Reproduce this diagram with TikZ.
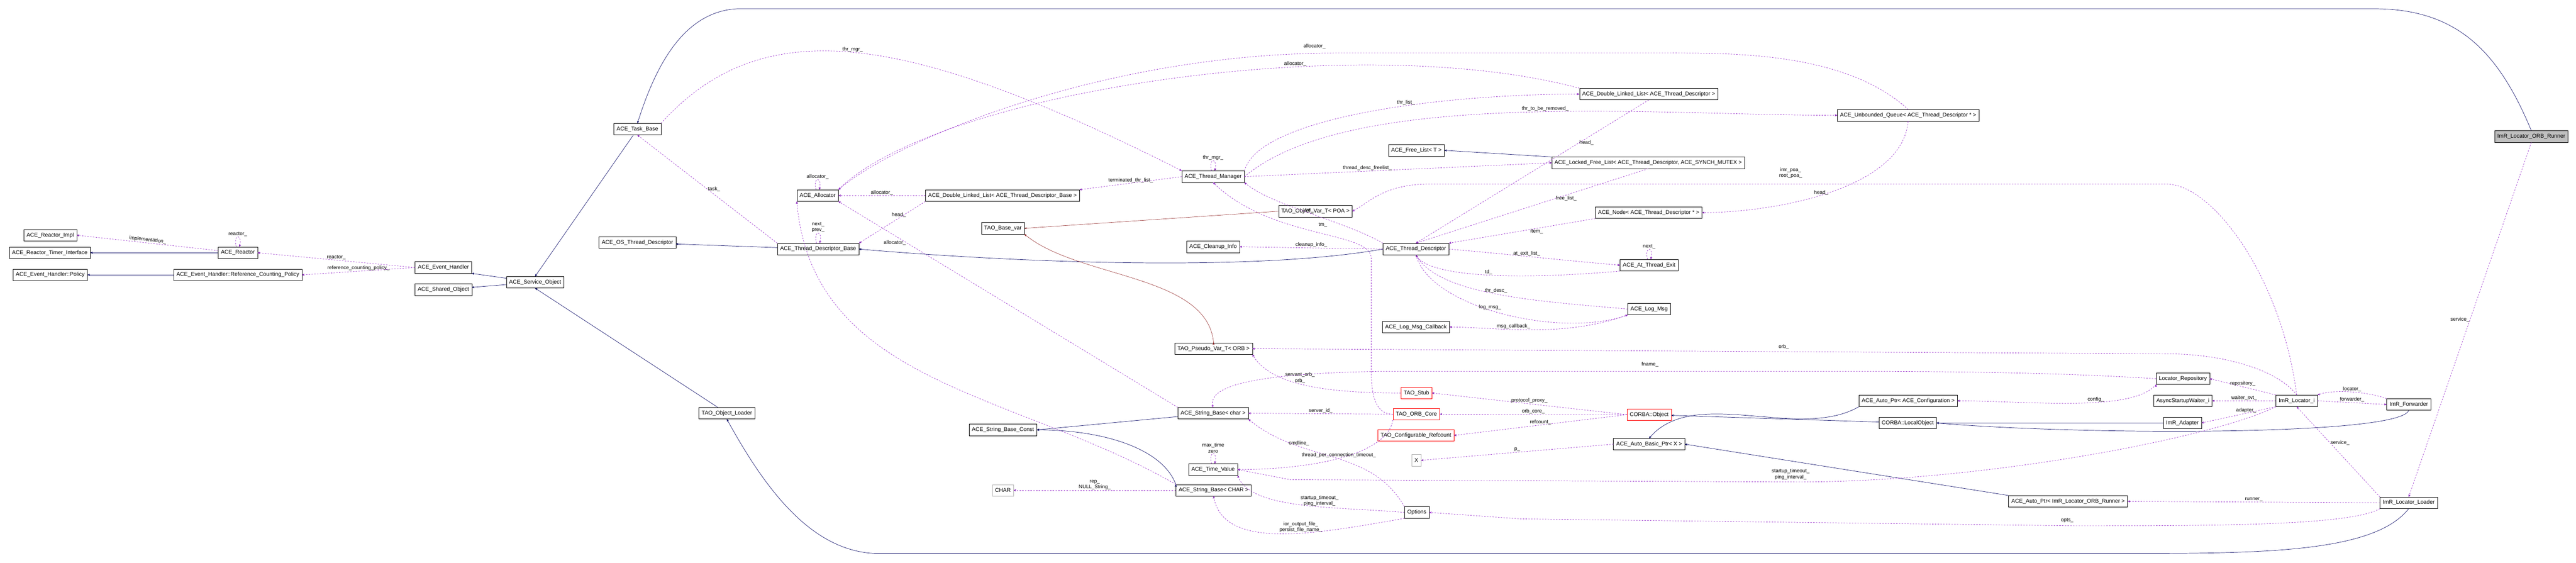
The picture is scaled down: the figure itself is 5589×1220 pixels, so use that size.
\documentclass[tikz,border=0pt]{standalone}
\usepackage{fontspec}
\setmainfont{Liberation Sans}
\usetikzlibrary{arrows}

\definecolor{inhcol}{RGB}{25,25,112}
\definecolor{usecol}{RGB}{154,50,205}
\definecolor{tplcol}{RGB}{139,26,26}

\begin{document}
\begin{tikzpicture}[x=1pt,y=-1pt,>=stealth',semithick,
    every node/.style={font=\fontsize{12}{14}\selectfont},
    cls/.style={rectangle,draw,fill=white,minimum height=25pt,inner xsep=6pt,inner ysep=2pt},
    red cls/.style={cls,draw=red},
    grey cls/.style={cls,draw=black!30},
    inh/.style={->,draw=inhcol,thick},
    tpl/.style={->,draw=tplcol},
    use/.style={->,draw=usecol,dashed,thick},
    cv/.style n args={4}{to path={.. controls +(#1:#2pt) and +(#3:#4pt) .. (\tikztotarget) \tikztonodes}},
    lbl/.style={font=\fontsize{11}{13}\selectfont,align=center,fill=none,inner sep=1pt}]

  \useasboundingbox (0,0) rectangle (5589,1220);

  % left part
  \node[cls] (rimpl)    at (109,510)  {ACE\_Reactor\_Impl};
  \node[cls] (rtimer)   at (108,548)  {ACE\_Reactor\_Timer\_Interface};
  \node[cls] (reactor)  at (516,548)  {ACE\_Reactor};
  \node[cls] (policy)   at (109,596)  {ACE\_Event\_Handler::Policy};
  \node[cls] (rcpolicy) at (516,596)  {ACE\_Event\_Handler::Reference\_Counting\_Policy};
  \node[cls] (evh)      at (962,580)  {ACE\_Event\_Handler};
  \node[cls] (shobj)    at (962,628)  {ACE\_Shared\_Object};
  \node[cls] (svcobj)   at (1161,612) {ACE\_Service\_Object};
  \node[cls] (taskb)    at (1383,280) {ACE\_Task\_Base};
  \node[cls] (osthr)    at (1383,526) {ACE\_OS\_Thread\_Descriptor};
  \node[cls] (objload)  at (1577,896) {TAO\_Object\_Loader};

  % middle part
  \node[cls] (tdb)      at (1775,540) {ACE\_Thread\_Descriptor\_Base};
  \node[cls] (alloc)    at (1774,424) {ACE\_Allocator};
  \node[cls] (dlltdb)   at (2175,424) {ACE\_Double\_Linked\_List< ACE\_Thread\_Descriptor\_Base >};
  \node[cls] (basevar)  at (2176,495) {TAO\_Base\_var};
  \node[cls] (sbconst)  at (2176,932) {ACE\_String\_Base\_Const};
  \node[grey cls] (chr) at (2176,1063) {CHAR};
  \node[cls] (tmgr)     at (2632,383) {ACE\_Thread\_Manager};
  \node[cls] (objref)   at (2854,458) {TAO\_Objref\_Var\_T< POA >};
  \node[cls] (cleanup)  at (2632,535) {ACE\_Cleanup\_Info};
  \node[cls] (pseudo)   at (2633,756) {TAO\_Pseudo\_Var\_T< ORB >};
  \node[cls] (sbchar)   at (2632,896) {ACE\_String\_Base< char >};
  \node[cls] (timev)    at (2632,1018) {ACE\_Time\_Value};
  \node[cls] (sbCHAR)   at (2633,1063) {ACE\_String\_Base< CHAR >};
  \node[cls] (freelist) at (3073,326) {ACE\_Free\_List< T >};
  \node[cls] (td)       at (3072,540) {ACE\_Thread\_Descriptor};
  \node[cls] (logcb)    at (3072,709) {ACE\_Log\_Msg\_Callback};
  \node[red cls] (stub)    at (3073,852) {TAO\_Stub};
  \node[red cls] (orbcore) at (3073,898) {TAO\_ORB\_Core};
  \node[red cls] (refcnt)  at (3072,944) {TAO\_Configurable\_Refcount};
  \node[grey cls] (xcls)   at (3073,998) {X};
  \node[cls] (options)  at (3074,1111) {Options};
  \node[cls] (dlltd)    at (3577,204) {ACE\_Double\_Linked\_List< ACE\_Thread\_Descriptor >};
  \node[cls] (lockedfl) at (3576,353) {ACE\_Locked\_Free\_List< ACE\_Thread\_Descriptor, ACE\_SYNCH\_MUTEX >};
  \node[cls] (tdnode)   at (3577,461) {ACE\_Node< ACE\_Thread\_Descriptor * >};
  \node[cls] (atexit)   at (3578,575) {ACE\_At\_Thread\_Exit};
  \node[cls] (logmsg)   at (3578,670) {ACE\_Log\_Msg};
  \node[red cls] (corbaobj) at (3578,899) {CORBA::Object};
  \node[cls] (autobasic) at (3578,963) {ACE\_Auto\_Basic\_Ptr< X >};

  % right part
  \node[cls] (uqueue)   at (4140,250) {ACE\_Unbounded\_Queue< ACE\_Thread\_Descriptor * >};
  \node[cls] (autocfg)  at (4140,869) {ACE\_Auto\_Ptr< ACE\_Configuration >};
  \node[cls] (localobj) at (4139,917) {CORBA::LocalObject};
  \node[cls] (autorun)  at (4487,1087) {ACE\_Auto\_Ptr< ImR\_Locator\_ORB\_Runner >};
  \node[cls] (repo)     at (4736,821) {Locator\_Repository};
  \node[cls] (waiter)   at (4736,869) {AsyncStartupWaiter\_i};
  \node[cls] (adapter)  at (4735,917) {ImR\_Adapter};
  \node[cls] (locator)  at (4983,869) {ImR\_Locator\_i};
  \node[cls] (forwarder) at (5226,877) {ImR\_Forwarder};
  \node[cls] (loader)   at (5226,1090) {ImR\_Locator\_Loader};
  \node[cls,fill=black!25] (runner) at (5492,296) {ImR\_Locator\_ORB\_Runner};

  % inheritance
  \path[inh]
  (reactor)  edge (rtimer)
  (rcpolicy) edge (policy)
  (svcobj)   edge (evh.south east)
  (svcobj)   edge (shobj)
  (taskb)    edge (svcobj.north)
  (objload)  edge (svcobj.south)
  (tdb)      edge (osthr)
  (td.west)  edge [cv={190}{300}{-5}{300}] (tdb.east)
  (lockedfl.north west) edge (freelist.east)
  (localobj) edge (corbaobj)
  (adapter)  edge (localobj)
  (forwarder.south) edge [cv={-110}{60}{-5}{300}] (localobj.east)
  (autocfg.south west) edge [cv={210}{150}{50}{150}] (autobasic.north)
  (autorun.north west) edge (autobasic.east)
  (sbchar)   edge (sbconst.east)
  (sbCHAR.north west) edge [cv={110}{80}{0}{150}] (sbconst.east)
  ;
  \draw[inh] (loader.south) .. controls (5150,1200) and (4900,1200) .. (4600,1200)
    -- (1900,1200) .. controls (1760,1195) and (1660,1060) .. (objload.south);
  \draw[inh] (runner.north) .. controls (5420,110) and (5330,19) .. (5150,19)
    -- (1600,19) .. controls (1480,25) and (1420,150) .. (taskb.north);

  % template instances
  \path[tpl]
  (objref.west) edge (basevar.east)
  (pseudo.north) edge [cv={95}{150}{-40}{150}] (basevar.south east)
  ;

  % members
  \path[use]
  (reactor) edge node[lbl,above,sloped] {implementation\_} (rimpl.east)
  (reactor) edge [loop above,min distance=30pt] node[lbl,above] {reactor\_} (reactor)
  (evh.west) edge node[lbl,above] {reactor\_} (reactor.east)
  (evh.west) edge node[lbl,above] {reference\_counting\_policy\_} (rcpolicy.east)
  (alloc) edge [loop above,min distance=30pt] node[lbl,above] {allocator\_} (alloc)
  (dlltdb.west) edge node[lbl,above] {allocator\_} (alloc.east)
  (dlltdb.south west) edge node[lbl,above,pos=.4] {head\_} (tdb.north east)
  (tdb) edge [loop above,min distance=30pt] node[lbl,above] {next\_\\prev\_} (tdb)
  (tdb.north west) edge node[lbl,right,pos=.5] {task\_} (taskb.south)
  (tmgr.west) edge node[lbl,above] {terminated\_thr\_list\_} (dlltdb.north east)
  (tmgr) edge [loop above,min distance=30pt] node[lbl,above] {thr\_mgr\_} (tmgr)
  (tmgr.north east) edge [cv={75}{120}{180}{300}] node[lbl,above,pos=.6] {thr\_list\_} (dlltd.west)
  (tmgr.east) edge [cv={40}{300}{180}{400}] node[lbl,above,pos=.55] {thr\_to\_be\_removed\_} (uqueue.west)
  (tmgr.east) edge node[lbl,above,pos=.4] {thread\_desc\_freelist\_} (lockedfl.west)
  (dlltd.north west) edge [cv={165}{500}{45}{300}] node[lbl,above,pos=.35] {allocator\_} (alloc.north east)
  (uqueue.south) edge [cv={-95}{150}{0}{150}] node[lbl,left,pos=.5] {head\_} (tdnode.east)
  (tdnode.south west) edge node[lbl,below,pos=.4] {item\_} (td.north east)
  (lockedfl.south) edge node[lbl,right,pos=.4] {free\_list\_} (td.north)
  (dlltd.south) edge node[lbl,right,pos=.3] {head\_} (td.north)
  (td.north west) edge [cv={150}{100}{-40}{80}] node[lbl,above,pos=.5] {tm\_} (tmgr.south east)
  (td.west) edge node[lbl,above] {cleanup\_info\_} (cleanup.east)
  (td.east) edge [cv={-5}{150}{175}{150}] node[lbl,above,pos=.45] {at\_exit\_list\_} (atexit.west)
  (atexit.south west) edge [cv={185}{200}{-60}{60}] node[lbl,above,pos=.5] {td\_} (td.south)
  (atexit) edge [loop above,min distance=30pt] node[lbl,above] {next\_} (atexit)
  (logmsg.west) edge [cv={175}{200}{-60}{100}] node[lbl,above,pos=.5] {thr\_desc\_} (td.south)
  (td.south) edge [cv={-75}{120}{200}{150}] node[lbl,above,pos=.45] {log\_msg\_} (logmsg.south west)
  (logmsg.south west) edge [cv={200}{150}{0}{100}] node[lbl,above,pos=.6] {msg\_callback\_} (logcb.east)
  (stub.west) edge [cv={180}{150}{-60}{80}] node[lbl,above,pos=.55] {servant\_orb\_\\orb\_} (pseudo.south east)
  (orbcore.west) edge node[lbl,above] {server\_id\_} (sbchar.east)
  (options.north west) edge [cv={120}{150}{-40}{150}] node[lbl,above,pos=.7] {cmdline\_} (sbchar.south east)
  (orbcore.south west) edge [cv={-100}{80}{0}{150}] node[lbl,above,pos=.5] {thread\_per\_connection\_timeout\_} (timev.east)
  (timev) edge [loop above,min distance=30pt] node[lbl,above] {max\_time\\zero} (timev)
  (options.west) edge [cv={175}{150}{-70}{80}] node[lbl,above,pos=.4] {startup\_timeout\_\\ping\_interval\_} (timev.south east)
  (options.south west) edge [cv={190}{200}{-80}{120}] node[lbl,above,pos=.4] {ior\_output\_file\_\\persist\_file\_name\_} (sbCHAR.south)
  (sbCHAR.west) edge node[lbl,above] {rep\_\\NULL\_String\_} (chr.east)
  (sbCHAR.north west) edge [cv={150}{400}{-85}{400}] (alloc.south west)
  (sbchar.north west) edge node[lbl,left,pos=.8] {allocator\_} (alloc.south east)
  (corbaobj.west) edge node[lbl,above] {protocol\_proxy\_} (stub.east)
  (corbaobj.west) edge node[lbl,above] {orb\_core\_} (orbcore.east)
  (corbaobj.west) edge node[lbl,above] {refcount\_} (refcnt.east)
  (autobasic.west) edge node[lbl,above] {p\_} (xcls.east)
  (loader.west) edge node[lbl,above] {runner\_} (autorun.east)
  (runner.south) edge node[lbl,left,pos=.5] {service\_} (loader.north)
  (loader.north west) edge node[lbl,right,pos=.6] {service\_} (locator.south)
  (locator.north west) edge node[lbl,above,pos=.5] {repository\_} (repo.east)
  (locator.west) edge node[lbl,above] {waiter\_svt\_} (waiter.east)
  (locator.south west) edge node[lbl,above,pos=.4] {adapter\_} (adapter.east)
  (forwarder.north west) edge [cv={160}{40}{20}{40}] node[lbl,above] {locator\_} (locator.north east)
  (locator.east) edge node[lbl,above] {forwarder\_} (forwarder.west)
  (repo.south west) edge [cv={230}{80}{0}{150}] node[lbl,above,pos=.4] {config\_} (autocfg.east)
  ;
  % long member paths
  \draw[use] (taskb.north east) .. controls (1650,30) and (1950,60) .. (tmgr.north west)
    node[lbl,pos=.5,above] {thr\_mgr\_};
  \draw[use] (uqueue.north) .. controls (4000,110) and (3750,115) .. (3600,115)
    -- (2900,115) .. controls (2400,115) and (1950,300) .. (alloc.north east);
  \node[lbl] (allocq) at (2852,100) {allocator\_};
  \draw[use] (orbcore.west) .. controls (2985,898) and (2975,860) .. (2975,800)
    -- (2975,560) .. controls (2975,500) and (2760,520) .. (tmgr.south);
  \node[lbl] (tmq) at (2870,488) {tm\_};
  \draw[use] (locator.north) .. controls (4950,600) and (4800,399) .. (4700,399)
    -- (3100,399) .. controls (3000,400) and (2970,440) .. (objref.east);
  \node[lbl, align=center] (poaq) at (3885,375) {imr\_poa\_\\root\_poa\_};
  \draw[use] (locator.north) .. controls (4940,800) and (4820,767) .. (4700,767)
    -- (pseudo.east);
  \node[lbl] (orbq) at (3870,752) {orb\_};
  \draw[use] (repo.west) .. controls (4500,810) and (4300,805) .. (4000,805)
    -- (3000,805) .. controls (2700,810) and (2620,840) .. (sbchar.north);
  \node[lbl] (fnameq) at (3580,790) {fname\_};
  \draw[use] (locator.south west) .. controls (4800,950) and (4300,1045) .. (3900,1045)
    -- (2800,1040) -- (timev.east);
  \node[lbl, align=center] (startq) at (3885,1028) {startup\_timeout\_\\ping\_interval\_};
  \draw[use] (loader.south west) .. controls (5100,1140) and (4800,1140) .. (4500,1140)
    -- (3300,1125) -- (options.east);
  \node[lbl] (optsq) at (4485,1128) {opts\_};
\end{tikzpicture}
\end{document}
